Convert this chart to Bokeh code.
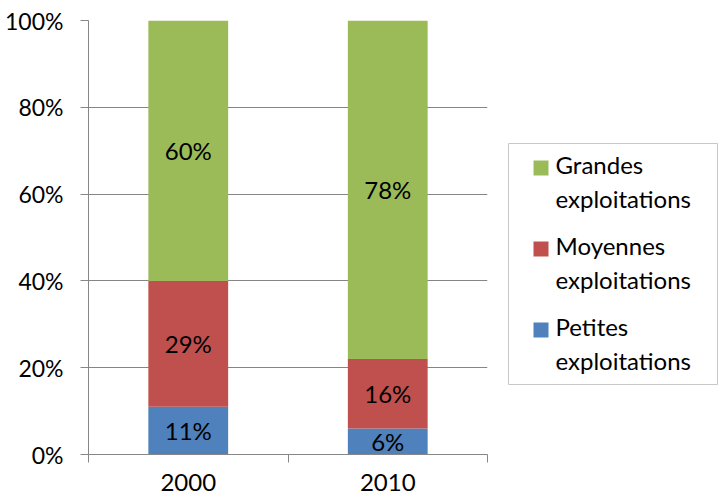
from bokeh.plotting import figure
from bokeh.models import ColumnDataSource, Range1d, FixedTicker, CustomJSTickFormatter
from bokeh.layouts import row
from bokeh.embed import file_html
from bokeh.resources import INLINE
from bokeh.core.properties import value

# ---- data ----
years = ["2000", "2010"]
petites = [11, 6]
moyennes = [29, 16]
grandes = [60, 78]
series_keys = ["petites", "moyennes", "grandes"]
series_labels = {
    "grandes": ["Grandes", "exploitations"],
    "moyennes": ["Moyennes", "exploitations"],
    "petites": ["Petites", "exploitations"],
}
y_ticks = [0, 20, 40, 60, 80, 100]
y_tick_labels = ["0%", "20%", "40%", "60%", "80%", "100%"]

# ---- style ----
FONT = "Lato"
FS = "24px"
GREEN = "#9BBB59"
RED = "#C0504D"
BLUE = "#4F81BD"
GRAY = "#868686"
colors = {"petites": BLUE, "moyennes": RED, "grandes": GREEN}

x = [i + 0.5 for i in range(len(years))]
data = {"petites": petites, "moyennes": moyennes, "grandes": grandes}
src = ColumnDataSource(dict(x=x, **data))

p = figure(width=490, height=500,
           x_range=Range1d(0, len(years)), y_range=Range1d(0, 100),
           output_backend="svg", toolbar_location=None,
           min_border_left=88, min_border_right=3,
           min_border_top=20, min_border_bottom=46)
p.outline_line_color = None
p.background_fill_color = "white"

p.vbar_stack(series_keys, x="x", width=0.4,
             color=[colors[k] for k in series_keys], line_color=None, source=src)

# data labels
lx, ly, lt = [], [], []
for i in range(len(years)):
    base = 0
    for k in series_keys:
        v = data[k][i]
        lx.append(x[i])
        ly.append(base + v / 2)
        lt.append(f"{v}%")
        base += v
p.text(x=lx, y=ly, text=lt, text_align="center", text_baseline="middle",
       text_font=value(FONT), text_font_size=FS, text_color="black")

# x axis: labels at centres, ticks at boundaries
p.xaxis.ticker = FixedTicker(ticks=x, minor_ticks=list(range(len(years) + 1)))
p.xaxis.formatter = CustomJSTickFormatter(args=dict(year_names=years),
                                          code="return year_names[Math.floor(tick)] || '';")
p.xaxis.major_tick_out = 0
p.xaxis.major_tick_in = 0
p.xaxis.minor_tick_out = 8
p.xaxis.minor_tick_in = 0
p.xaxis.minor_tick_line_color = GRAY
p.xaxis.axis_line_color = GRAY
p.xaxis.major_label_standoff = 11
p.xaxis.major_label_text_font_size = FS
p.xgrid.visible = False

# y axis
p.yaxis.ticker = FixedTicker(ticks=y_ticks, minor_ticks=[])
p.yaxis.formatter = CustomJSTickFormatter(args=dict(yt=y_ticks, yl=y_tick_labels),
                                          code="const i = yt.indexOf(tick); return i >= 0 ? yl[i] : '';")
p.yaxis.major_tick_out = 8
p.yaxis.major_tick_in = 0
p.yaxis.major_tick_line_color = GRAY
p.yaxis.axis_line_color = GRAY
p.yaxis.major_label_standoff = 17
p.yaxis.major_label_text_font_size = "23px"
p.ygrid.grid_line_color = GRAY

for ax in (p.xaxis, p.yaxis):
    ax.major_label_text_font = FONT
    ax.major_label_text_color = "black"

# ---- legend panel (its frame is aligned with the main frame: y 20..454) ----
lf = figure(frame_width=230, frame_height=434, x_range=Range1d(0, 230), y_range=Range1d(454, 20),
            output_backend="svg", toolbar_location=None,
            x_axis_type=None, y_axis_type=None,
            min_border_left=0, min_border_right=0, min_border_top=0, min_border_bottom=0)
lf.title.visible = False
lf.outline_line_color = None
lf.grid.visible = False
lf.quad(left=[18], right=[227], top=[143], bottom=[384],
        fill_color="white", line_color="#C8C8C8", line_width=1)

order = ["grandes", "moyennes", "petites"]
sq_top = [160, 241, 322]
for k, t in zip(order, sq_top):
    lf.quad(left=[43], right=[58], top=[t], bottom=[t + 15],
            fill_color=colors[k], line_color=None)
    l1, l2 = series_labels[k]
    lf.text(x=[65, 65], y=[t + 4, t + 38], text=[l1, l2],
            text_align="left", text_baseline="middle",
            text_font=value(FONT), text_font_size=FS, text_color="black")

layout = row(p, lf)
open("out.html", "w").write(file_html(layout, INLINE))
